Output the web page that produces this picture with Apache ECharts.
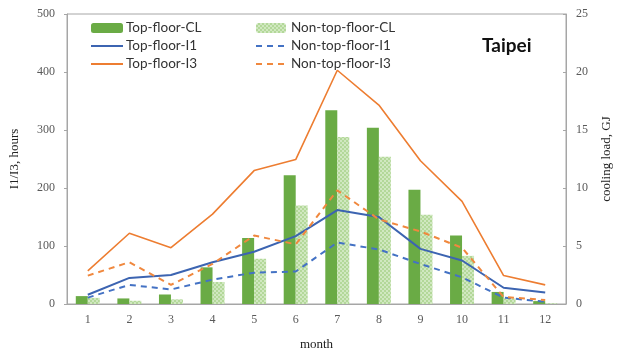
<!DOCTYPE html>
<html>
<head>
<meta charset="utf-8">
<script src="https://cdn.jsdelivr.net/npm/echarts@6/dist/echarts.min.js"></script>
<style>
  html, body { margin: 0; padding: 0; background: #fff; }
  #chart { width: 621px; height: 356px; }
</style>
</head>
<body>
<div id="chart"></div>
<script>
const months = ['1', '2', '3', '4', '5', '6', '7', '8', '9', '10', '11', '12'];

// cooling load, GJ (right axis)
const topFloorCL    = [0.68, 0.48, 0.82, 3.16, 5.7, 11.1, 16.7, 15.2, 9.85, 5.9, 1.04, 0.25];
const nonTopFloorCL = [0.53, 0.28, 0.4, 1.9, 3.9, 8.5, 14.4, 12.7, 7.7, 4.15, 0.48, 0.06];

// hours (left axis)
const topFloorI1    = [16, 45, 50, 72, 90, 117, 162, 150, 95, 75, 28, 20];
const nonTopFloorI1 = [11, 33, 25, 42, 54, 56, 106, 94, 69, 46, 11, 4];
const topFloorI3    = [57, 122, 97, 155, 230, 249, 403, 343, 247, 177, 49, 33];
const nonTopFloorI3 = [49, 72, 33, 69, 118, 103, 196, 146, 125, 97, 12, 7];

const leftTicks = { min: 0, max: 500, interval: 100 };
const rightTicks = { min: 0, max: 25, interval: 5 };

// light green checkered fill for the non-top-floor bars
const tile = document.createElement('canvas');
tile.width = 4; tile.height = 4;
const tctx = tile.getContext('2d');
tctx.fillStyle = '#b3d899';
tctx.fillRect(0, 0, 4, 4);
tctx.fillStyle = '#d0e8c0';
tctx.fillRect(0, 0, 2, 2);
tctx.fillRect(2, 2, 2, 2);
const checker = { image: tile, repeat: 'repeat' };

const chart = echarts.init(document.getElementById('chart'));

const tickLabel = { color: '#595959', fontFamily: 'Liberation Serif', fontSize: 12 };
const axisName = { color: '#222', fontFamily: 'Liberation Serif', fontSize: 13 };
// hide the marker dot that echarts puts on line legend icons
const noDot = { color: 'transparent', borderWidth: 0 };

chart.setOption({
  animation: false,
  title: {
    text: 'Taipei',
    left: 477,
    top: 31,
    textStyle: { fontFamily: 'Lato', fontWeight: 'bold', fontSize: 19, color: '#111' }
  },
  legend: [
    {
      orient: 'vertical',
      left: 85, top: 16,
      itemWidth: 32, itemHeight: 10, itemGap: 4,
      textStyle: { fontFamily: 'Lato', fontSize: 13.5, color: '#333', padding: [0, 0, 0, -2] },
      data: [
        'Top-floor-CL',
        { name: 'Top-floor-I1', itemStyle: noDot },
        { name: 'Top-floor-I3', itemStyle: noDot }
      ]
    },
    {
      orient: 'vertical',
      left: 250, top: 16,
      itemWidth: 30, itemHeight: 10, itemGap: 4,
      textStyle: { fontFamily: 'Lato', fontSize: 13.5, color: '#333' },
      data: [
        'Non-top-floor-CL',
        { name: 'Non-top-floor-I1', itemStyle: noDot },
        { name: 'Non-top-floor-I3', itemStyle: noDot }
      ]
    }
  ],
  grid: {
    left: 67, right: 43, top: 14, bottom: 47,
    show: true, borderColor: '#a6a6a6', borderWidth: 1
  },
  xAxis: {
    type: 'category',
    data: months,
    name: 'month',
    nameLocation: 'middle',
    nameGap: 34,
    nameTextStyle: axisName,
    axisLine: { lineStyle: { color: '#a6a6a6' } },
    axisTick: { show: false },
    axisLabel: Object.assign({ margin: 10 }, tickLabel)
  },
  yAxis: [
    {
      type: 'value',
      min: leftTicks.min, max: leftTicks.max, interval: leftTicks.interval,
      name: 'I1/I3, hours',
      nameLocation: 'middle',
      nameGap: 46,
      nameTextStyle: axisName,
      axisLine: { show: true, lineStyle: { color: '#a6a6a6' } },
      axisTick: { show: true, length: 3, inside: false, lineStyle: { color: '#a6a6a6' } },
      axisLabel: Object.assign({ margin: 12 }, tickLabel),
      splitLine: { show: false }
    },
    {
      type: 'value',
      min: rightTicks.min, max: rightTicks.max, interval: rightTicks.interval,
      name: 'cooling load, GJ',
      nameLocation: 'middle',
      nameRotate: 90,
      nameGap: 34,
      nameTextStyle: axisName,
      axisLine: { show: true, lineStyle: { color: '#a6a6a6' } },
      axisTick: { show: true, inside: true, length: 3, lineStyle: { color: '#a6a6a6' } },
      axisLabel: Object.assign({ margin: 10 }, tickLabel),
      splitLine: { show: false }
    }
  ],
  series: [
    {
      name: 'Top-floor-CL',
      type: 'bar',
      yAxisIndex: 1,
      data: topFloorCL,
      barWidth: 12,
      barGap: '0%',
      itemStyle: { color: '#6aab45' },
      z: 1
    },
    {
      name: 'Non-top-floor-CL',
      type: 'bar',
      yAxisIndex: 1,
      data: nonTopFloorCL,
      barWidth: 12,
      barGap: '0%',
      itemStyle: { color: checker },
      z: 1
    },
    {
      name: 'Top-floor-I1',
      type: 'line',
      data: topFloorI1,
      symbol: 'none',
      lineStyle: { color: '#3c64b1', width: 2 },
      itemStyle: { color: '#3c64b1' },
      z: 3
    },
    {
      name: 'Top-floor-I3',
      type: 'line',
      data: topFloorI3,
      symbol: 'none',
      lineStyle: { color: '#ed7d31', width: 1.6 },
      itemStyle: { color: '#ed7d31' },
      z: 3
    },
    {
      name: 'Non-top-floor-I1',
      type: 'line',
      data: nonTopFloorI1,
      symbol: 'none',
      lineStyle: { color: '#4472c4', width: 2, type: [6, 5] },
      itemStyle: { color: '#4472c4' },
      z: 3
    },
    {
      name: 'Non-top-floor-I3',
      type: 'line',
      data: nonTopFloorI3,
      symbol: 'none',
      lineStyle: { color: '#f0883e', width: 2, type: [6, 5] },
      itemStyle: { color: '#f0883e' },
      z: 3
    }
  ]
});
</script>
</body>
</html>
